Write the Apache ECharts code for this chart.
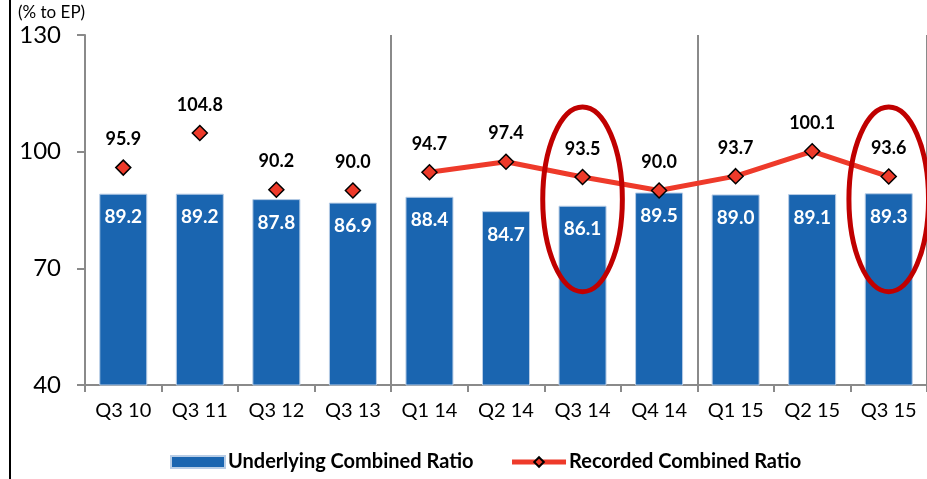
<!DOCTYPE html>
<html><head><meta charset="utf-8">
<script src="https://cdn.jsdelivr.net/npm/echarts@6/dist/echarts.min.js"></script>
<style>html,body{margin:0;padding:0;background:#fff}#c{width:927px;height:479px}</style>
</head><body><div id="c"></div>
<script>
var categories = ['Q3 10','Q3 11','Q3 12','Q3 13','Q1 14','Q2 14','Q3 14','Q4 14','Q1 15','Q2 15','Q3 15'];
var underlying = [89.2, 89.2, 87.8, 86.9, 88.4, 84.7, 86.1, 89.5, 89.0, 89.1, 89.3];
var recordedStandalone = [95.9, 104.8, 90.2, 90.0, '-', '-', '-', '-', '-', '-', '-'];
var recordedLine = ['-', '-', '-', '-', 94.7, 97.4, 93.5, 90.0, 93.7, 100.1, 93.6];
var yTicks = [40, 70, 100, 130];
var separatorsBefore = [4, 8];
var highlightCats = ['Q3 14', 'Q3 15'];
var highlightRange = [64, 111.5];

var FONT = 'Lato';
var chart = echarts.init(document.getElementById('c'), null, {renderer: 'canvas'});
var ellipseData = highlightCats.map(function (c) { return [c, highlightRange[0], highlightRange[1]]; });
var valLabel = function (p) { return Number(p.value).toFixed(1); };

chart.setOption({
  animation: false,
  textStyle: {fontFamily: FONT},
  grid: {left: 85, right: 0, top: 35, bottom: 94, containLabel: false},
  graphic: [
    {type: 'line', shape: {x1: 10, y1: 0, x2: 10, y2: 479}, style: {stroke: '#000', lineWidth: 2}, z: 10},
    {type: 'text', left: 18, top: 4, style: {text: '(% to EP)', fontFamily: FONT, fontSize: 17, fill: '#000'}}
  ],
  legend: {
    left: 165, bottom: 2,
    itemWidth: 54, itemHeight: 12, itemGap: 36,
    textStyle: {fontFamily: FONT, fontWeight: 'bold', fontSize: 20, color: '#000', padding: [0, 0, 0, -2]},
    data: [
      {name: 'Underlying Combined Ratio', icon: 'rect'},
      {name: 'Recorded Combined Ratio', lineStyle: {width: 5, color: '#ee3a2a'}}
    ]
  },
  xAxis: {
    type: 'category', data: categories, boundaryGap: true,
    axisLine: {lineStyle: {color: '#8a8a8a', width: 2}},
    axisTick: {show: true, length: 7, lineStyle: {color: '#8a8a8a', width: 2}},
    axisLabel: {color: '#000', fontSize: 20, fontFamily: FONT, margin: 16},
    splitLine: {show: true, interval: function (i) { return separatorsBefore.indexOf(i) >= 0; },
      lineStyle: {color: '#8a8a8a', width: 2}}
  },
  yAxis: {
    type: 'value', min: yTicks[0], max: yTicks[yTicks.length - 1], interval: 30,
    axisLine: {show: true, lineStyle: {color: '#8a8a8a', width: 2}},
    axisTick: {show: true, length: 8, lineStyle: {color: '#8a8a8a', width: 2}},
    axisLabel: {color: '#000', fontSize: 24, fontFamily: FONT, margin: 24},
    splitLine: {show: false}
  },
  series: [
    {
      name: 'Underlying Combined Ratio', type: 'bar', data: underlying, barWidth: 48,
      itemStyle: {color: '#1a65b0', borderColor: '#b8cde6', borderWidth: 1},
      label: {show: true, position: 'insideTop', distance: 14, color: '#fff', fontWeight: 'bold',
        fontSize: 19, fontFamily: FONT, formatter: valLabel},
      z: 2
    },
    {
      name: 'Recorded Combined Ratio', type: 'line', data: recordedLine,
      symbol: 'diamond', symbolSize: 15, showAllSymbol: true,
      lineStyle: {color: '#ee3a2a', width: 5},
      itemStyle: {color: '#ee3a2a', borderColor: '#000', borderWidth: 1.5, opacity: 1},
      label: {show: true, position: 'top', distance: 11, color: '#000', fontWeight: 'bold',
        fontSize: 18, fontFamily: FONT, formatter: valLabel},
      z: 4
    },
    {
      name: 'Recorded Combined Ratio', type: 'scatter', data: recordedStandalone,
      symbol: 'diamond', symbolSize: 15,
      itemStyle: {color: '#ee3a2a', borderColor: '#000', borderWidth: 1.5, opacity: 1},
      label: {show: true, position: 'top', distance: 11, color: '#000', fontWeight: 'bold',
        fontSize: 18, fontFamily: FONT, opacity: 1, formatter: valLabel},
      z: 4
    },
    {
      type: 'custom', data: ellipseData, silent: true, z: 5,
      encode: {x: 0, y: [1, 2]},
      renderItem: function (params, api) {
        var top = api.coord([api.value(0), api.value(2)]);
        var bot = api.coord([api.value(0), api.value(1)]);
        var bw = api.size([1, 0])[0];
        var cx = top[0], cy = (top[1] + bot[1]) / 2;
        var rx = bw * 0.52, ry = (bot[1] - top[1]) / 2;
        return {
          type: 'ellipse',
          shape: {cx: cx, cy: cy, rx: rx, ry: ry},
          style: {fill: null, stroke: '#c00000', lineWidth: 5}
        };
      }
    }
  ]
});
</script></body></html>
